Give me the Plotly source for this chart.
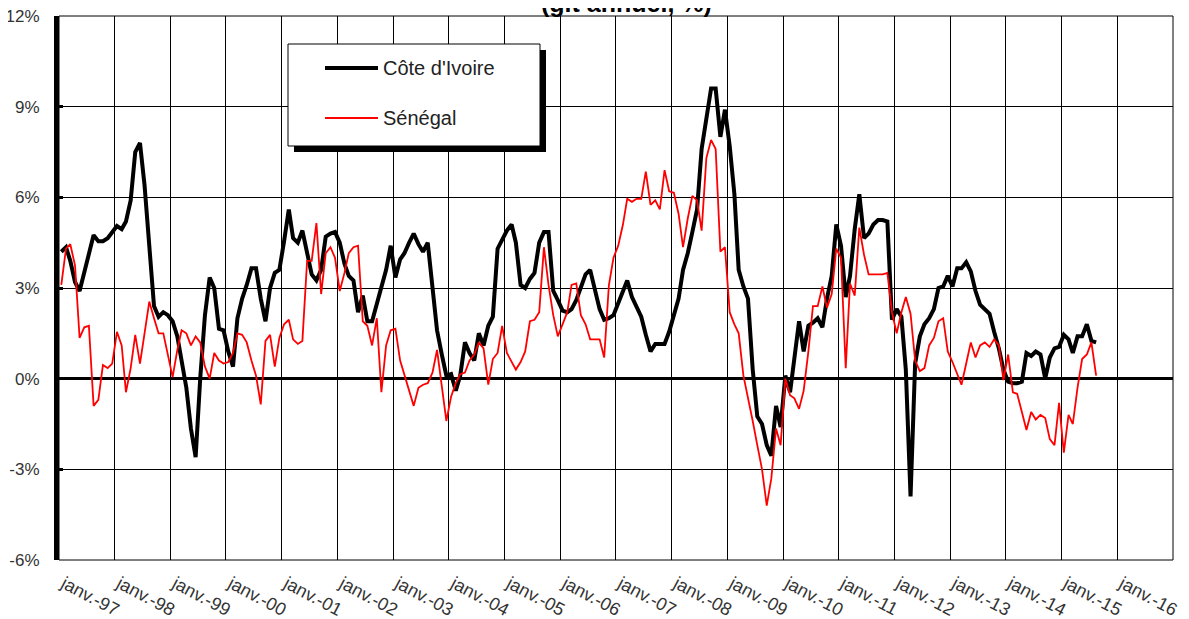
import pandas as pd
import plotly.graph_objects as go

# ---------------- data (monthly, glissement annuel, %) ----------------
start_month = "1997-01-01"

cote_divoire = [
    4.2, 4.35, 3.9, 3.2, 2.9, 3.5, 4.2, 4.75, 4.55, 4.55, 4.65, 4.85,      # 1997
    5.05, 4.95, 5.2, 5.9, 7.5, 7.8, 6.4, 4.4, 2.4, 2.05, 2.2, 2.1,         # 1998
    1.9, 1.4, 0.6, -0.3, -1.65, -2.6, 0.0, 2.1, 3.35, 3.0, 1.65, 1.6,      # 1999
    0.9, 0.4, 2.0, 2.65, 3.1, 3.65, 3.65, 2.65, 1.9, 3.0, 3.5, 3.6,        # 2000
    4.55, 5.6, 4.65, 4.5, 4.9, 4.1, 3.45, 3.25, 3.6, 4.7, 4.8, 4.85,       # 2001
    4.5, 3.8, 3.4, 3.25, 2.2, 2.75, 1.9, 1.9, 2.5, 3.0, 3.6, 4.4,          # 2002
    3.35, 3.95, 4.15, 4.5, 4.8, 4.45, 4.2, 4.5, 3.1, 1.6, 0.8, 0.1,        # 2003
    0.15, -0.4, 0.1, 1.2, 0.85, 0.6, 1.5, 1.1, 1.75, 2.05, 4.3, 4.6,       # 2004
    4.9, 5.1, 4.5, 3.1, 3.0, 3.3, 3.5, 4.5, 4.85, 4.85, 2.9, 2.6,          # 2005
    2.25, 2.2, 2.3, 2.6, 3.0, 3.45, 3.6, 3.0, 2.3, 1.95, 2.0, 2.1,         # 2006
    2.5, 2.9, 3.25, 2.7, 2.4, 2.05, 1.45, 0.9, 1.15, 1.15, 1.15, 1.55,     # 2007
    2.05, 2.65, 3.6, 4.15, 4.85, 5.6, 7.6, 8.6, 9.6, 9.6, 8.0, 8.9,        # 2008
    7.7, 6.1, 3.6, 3.05, 2.65, 0.3, -1.25, -1.5, -2.2, -2.55, -0.9, -1.6,  # 2009
    0.1, -0.45, 0.75, 1.9, 0.9, 1.75, 1.85, 2.0, 1.7, 2.65, 3.4, 5.1,      # 2010
    4.4, 2.7, 3.4, 4.95, 6.1, 4.65, 4.8, 5.1, 5.25, 5.25, 5.2, 1.95,       # 2011
    2.3, 2.05, 0.3, -3.9, 0.5, 1.4, 1.8, 2.0, 2.3, 3.0, 3.05, 3.4,         # 2012
    3.05, 3.65, 3.65, 3.85, 3.55, 2.9, 2.45, 2.3, 2.15, 1.55, 1.0, 0.3,    # 2013
    -0.1, -0.15, -0.15, -0.1, 0.85, 0.75, 0.9, 0.8, 0.0, 0.7, 1.0, 1.05,   # 2014
    1.45, 1.3, 0.85, 1.4, 1.4, 1.8, 1.25, 1.2,                             # 2015
]

senegal = [
    3.1, 4.3, 4.45, 3.75, 1.35, 1.7, 1.75, -0.9, -0.7, 0.45, 0.35, 0.5,    # 1997
    1.55, 1.1, -0.45, 0.35, 1.45, 0.5, 1.5, 2.55, 2.0, 1.5, 1.5, 0.8,      # 1998
    0.05, 0.95, 1.6, 1.5, 1.1, 1.4, 1.2, 0.4, 0.0, 0.85, 0.6, 0.5,         # 1999
    0.55, 0.85, 1.5, 1.45, 1.2, 0.6, 0.1, -0.85, 1.25, 1.45, 0.4, 1.35,    # 2000
    1.8, 1.95, 1.3, 1.15, 1.25, 3.9, 3.9, 5.15, 2.8, 4.15, 4.35, 4.0,      # 2001
    2.9, 3.5, 4.15, 4.35, 4.4, 1.9, 1.75, 1.1, 2.0, -0.45, 1.1, 1.6,       # 2002
    1.65, 0.6, 0.1, -0.4, -0.9, -0.3, -0.2, -0.15, 0.2, 0.95, -0.2, -1.4,  # 2003
    -0.6, -0.15, 0.15, 0.2, 0.6, 0.8, 1.2, 1.0, -0.2, 0.65, 0.85, 1.75,    # 2004
    0.85, 0.55, 0.3, 0.55, 0.9, 1.9, 1.95, 2.2, 4.35, 3.1, 2.1, 1.4,       # 2005
    1.8, 2.2, 3.1, 3.15, 2.1, 1.8, 1.3, 1.3, 1.3, 0.7, 3.1, 4.0,           # 2006
    4.4, 5.1, 5.95, 5.85, 5.95, 5.95, 6.85, 5.75, 5.9, 5.6, 6.9, 6.2,      # 2007
    6.15, 5.45, 4.35, 5.3, 6.05, 5.9, 4.9, 7.3, 7.9, 7.6, 4.2, 4.35,       # 2008
    2.2, 1.8, 1.5, 0.1, -0.6, -1.4, -2.2, -3.0, -4.2, -3.3, -1.65, -2.2,   # 2009
    0.0, -0.55, -0.65, -1.0, -0.4, 0.9, 2.4, 2.4, 3.05, 2.35, 2.8, 4.3,    # 2010
    4.0, 0.35, 3.15, 2.75, 5.0, 4.1, 3.45, 3.45, 3.45, 3.45, 3.5, 2.2,     # 2011
    1.5, 2.2, 2.7, 2.15, 0.6, 0.25, 0.35, 1.1, 1.35, 1.9, 2.0, 0.9,        # 2012
    0.55, 0.15, -0.2, 0.5, 1.2, 0.7, 1.1, 1.2, 1.05, 1.3, 1.1, -0.05,      # 2013
    0.8, -0.45, -0.5, -1.1, -1.7, -1.1, -1.35, -1.2, -1.3, -2.0, -2.2, -0.8,  # 2014
    -2.45, -1.2, -1.5, -0.3, 0.65, 0.8, 1.2, 0.1,                          # 2015
]

series_names = ["Côte d'Ivoire", "Sénégal"]
tick_years = list(range(1997, 2017))
tick_labels = [f"janv.-{y % 100:02d}" for y in tick_years]
y_ticks = [-6, -3, 0, 3, 6, 9, 12]
y_tick_labels = [f"{v}%" for v in y_ticks]
title_text = "(glt annuel, %)"

# ---------------- geometry ----------------
# the page body has an 8 px margin, so the figure is drawn 8 px in from the top-left
OFF = 8
W, H = 1189 - OFF, 619 - OFF
L, R, T, B = 59 - OFF, 1173 - OFF, 16 - OFF, 560 - OFF
FONT = "Liberation Sans, Arial, sans-serif"


def px(x):
    """page pixel x -> paper x"""
    return (x - OFF - L) / (R - L)


def py(y):
    """page pixel y -> paper y"""
    return (B - (y - OFF)) / (B - T)


months = pd.date_range(start_month, periods=len(cote_divoire), freq="MS") + pd.Timedelta(days=15)
grid_dates = [f"{y}-01-01" for y in tick_years]
# labels start just right of each yearly grid line (as in the Excel original)
label_dates = [f"{y}-02-02" for y in tick_years]
x_range = ["1997-01-01", "2017-01-01"]

fig = go.Figure()
fig.add_trace(go.Scatter(x=months, y=cote_divoire, mode="lines", name=series_names[0],
                         line=dict(color="black", width=4), showlegend=False))
fig.add_trace(go.Scatter(x=months, y=senegal, mode="lines", name=series_names[1],
                         line=dict(color="#FF0000", width=1.8), showlegend=False))

shapes = [
    # plot frame
    dict(type="rect", xref="paper", yref="paper", x0=0, x1=1, y0=0, y1=1,
         line=dict(color="black", width=1), fillcolor="rgba(0,0,0,0)", layer="below"),
    # legend shadow
    dict(type="rect", xref="paper", yref="paper", x0=px(294), x1=px(546), y0=py(152), y1=py(50),
         line=dict(width=0), fillcolor="black"),
    # legend box
    dict(type="rect", xref="paper", yref="paper", x0=px(288), x1=px(540), y0=py(146), y1=py(44),
         line=dict(color="black", width=1), fillcolor="white"),
    # legend samples
    dict(type="line", xref="paper", yref="paper", x0=px(325), x1=px(378), y0=py(68), y1=py(68),
         line=dict(color="black", width=4)),
    dict(type="line", xref="paper", yref="paper", x0=px(325), x1=px(378), y0=py(118), y1=py(118),
         line=dict(color="#FF0000", width=1.8)),
]

annotations = [
    dict(text=series_names[0], xref="paper", yref="paper", x=px(381), y=py(68),
         xanchor="left", yanchor="middle", showarrow=False,
         font=dict(family=FONT, size=20, color="#222222")),
    dict(text=series_names[1], xref="paper", yref="paper", x=px(381), y=py(118),
         xanchor="left", yanchor="middle", showarrow=False,
         font=dict(family=FONT, size=20, color="#222222")),
    dict(text=f"<b>{title_text}</b>", xref="paper", yref="paper", x=px(626), y=py(19),
         xanchor="center", yanchor="bottom", showarrow=False,
         font=dict(family=FONT, size=25, color="black")),
]

fig.update_layout(
    width=W, height=H,
    margin=dict(l=L, r=W - R, t=T, b=H - B, pad=0, autoexpand=False),
    paper_bgcolor="white", plot_bgcolor="white",
    showlegend=False,
    shapes=shapes,
    annotations=annotations,
    xaxis=dict(
        type="date", range=x_range, automargin=False,
        tickmode="array", tickvals=label_dates, ticktext=tick_labels,
        tickangle=28, ticks="", showgrid=False,
        minor=dict(tickmode="array", tickvals=grid_dates, showgrid=True,
                   gridcolor="black", gridwidth=1, ticks=""),
        zeroline=False, showline=False, ticklabelstandoff=9,
        tickfont=dict(family=FONT, size=18, color="#333333"),
    ),
    xaxis2=dict(
        type="date", range=x_range, overlaying="x", anchor="free", position=1 / 3,
        automargin=False,
        tickmode="array", tickvals=grid_dates, showticklabels=False,
        ticks="inside", ticklen=4, tickwidth=3, tickcolor="black",
        showgrid=False, zeroline=False, showline=False,
    ),
    yaxis=dict(
        range=[-6, 12], automargin=False,
        tickmode="array", tickvals=y_ticks, ticktext=y_tick_labels,
        showgrid=True, gridcolor="black", gridwidth=1,
        zeroline=True, zerolinecolor="black", zerolinewidth=3,
        showline=True, linecolor="black", linewidth=5,
        ticks="inside", ticklen=4, tickwidth=3, tickcolor="black",
        ticklabelstandoff=11, ticklabeloverflow="allow",
        tickfont=dict(family=FONT, size=17, color="#333333"),
    ),
)

fig.write_html("out.html")
